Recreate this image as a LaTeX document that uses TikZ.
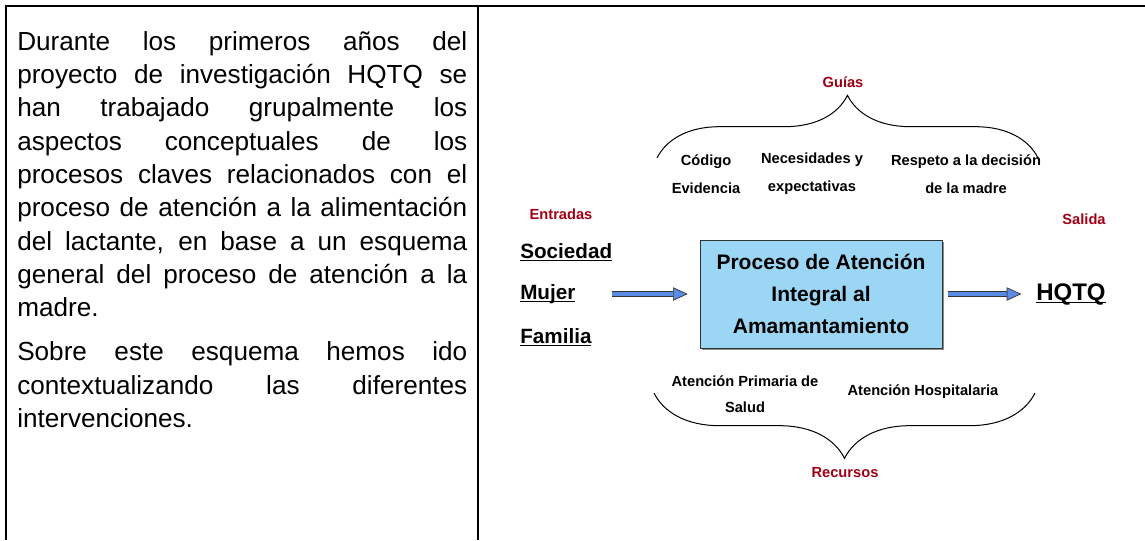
\documentclass[tikz,border=0pt]{standalone}
\usepackage{fontspec}
\setmainfont{Liberation Sans}
\usetikzlibrary{arrows.meta,decorations.pathreplacing,shadows}
\definecolor{rojo}{RGB}{160,0,20}
\definecolor{celeste}{RGB}{155,215,245}
\definecolor{azul}{RGB}{90,140,230}
\newcommand{\subr}[1]{\setbox0\hbox{#1}\rlap{\copy0}\rule[-2.6pt]{\wd0}{1.2pt}}

\begin{document}
\begin{tikzpicture}[x=0.75pt,y=-0.75pt,
	every node/.style={inner sep=0pt,font=\bfseries\fontsize{11}{21}\selectfont},
	titulo/.style={text=rojo},
	grande/.style={font=\bfseries\fontsize{15.5}{18}\selectfont},
	caja/.style={draw=black!80,fill=celeste,minimum width=181.5pt,minimum height=81pt,align=center,
		font=\bfseries\fontsize{15.75}{24}\selectfont,
		drop shadow={shadow xshift=1.5pt,shadow yshift=-1.5pt,fill=black!45,opacity=1}},
	flecha/.style={draw=black!80,line width=0.5pt,double=azul,double distance=3pt,
		-{Triangle[length=11pt,width=10pt,fill=azul,line width=0.5pt]}},
	llave/.style={decorate,decoration={brace,amplitude=47pt},line width=0.75pt},
	llaveb/.style={decorate,decoration={brace,mirror,amplitude=49pt},line width=0.75pt}]
	\useasboundingbox (0,0) rectangle (1145,540);
	
	% marco
	\draw[line width=1.5pt] (6,540) -- (6,6) -- (1145,6);
	\draw[line width=1.5pt] (478,6) -- (478,540);
	
	\node[anchor=base west,font=\fontsize{19.6}{25}\selectfont] (texto) at (17,50) {\parbox[t]{337.5pt}{%
		\setlength{\parskip}{8pt}\hyphenpenalty=10000
		Durante los primeros años del\linebreak
		proyecto de investigación HQTQ se\linebreak
		han trabajado grupalmente los\linebreak
		aspectos conceptuales de los\linebreak
		procesos claves relacionados con el\linebreak
		proceso de atención a la alimentación\linebreak
		del lactante, en base a un esquema\linebreak
		general del proceso de atención a la\linebreak
		madre.
		
		Sobre este esquema hemos ido\linebreak
		contextualizando las diferentes\linebreak
		intervenciones.}};
	
	\node[titulo] (guias) at (843,82) {Guías};
	\node[align=center] (g1) at (706,174) {Código\\Evidencia};
	\node[align=center] (g2) at (812,174) {Necesidades y\\expectativas};
	\node[align=center] (g3) at (966,174) {Respeto a la decisión\\de la madre};
	
	\node[titulo] (entr) at (561,214) {Entradas};
	\node[titulo] (sal) at (1084,219) {Salida};
	
	\node[grande,anchor=base west] (e1) at (520,258) {\subr{Sociedad}};
	\node[grande,anchor=base west] (e2) at (520,299) {\subr{Mujer}};
	\node[grande,anchor=base west] (e3) at (520,343) {\subr{Familia}};
	
	\node[caja] (proc) at (821,294) {Proceso de Atención\\Integral al\\Amamantamiento};
	
	\node[grande,font=\bfseries\fontsize{18}{20}\selectfont,anchor=base west] (hqtq) at (1036,300) {\subr{HQTQ}};
	
	\draw[flecha,shorten <=27pt,shorten >=9pt] (e2.east |- proc) -- (proc.west);
	\draw[flecha,shorten <=4.5pt,shorten >=11pt] (proc.east) -- (hqtq.west |- proc);
	
	\coordinate (b1) at (657,158);
	\coordinate (b2) at (1038,158);
	\draw[llave] (b1) -- (b2);
	
	\coordinate (b3) at (654,393);
	\coordinate (b4) at (1035,393);
	\draw[llaveb] (b3) -- (b4);
	
	\node[align=center,font=\bfseries\fontsize{11}{19.5}\selectfont] (r1) at (745,394) {Atención Primaria de\\Salud};
	\node (r2) at (923,392) {Atención Hospitalaria};
	\node[titulo] (rec) at (845,473) {Recursos};
\end{tikzpicture}
\end{document}
